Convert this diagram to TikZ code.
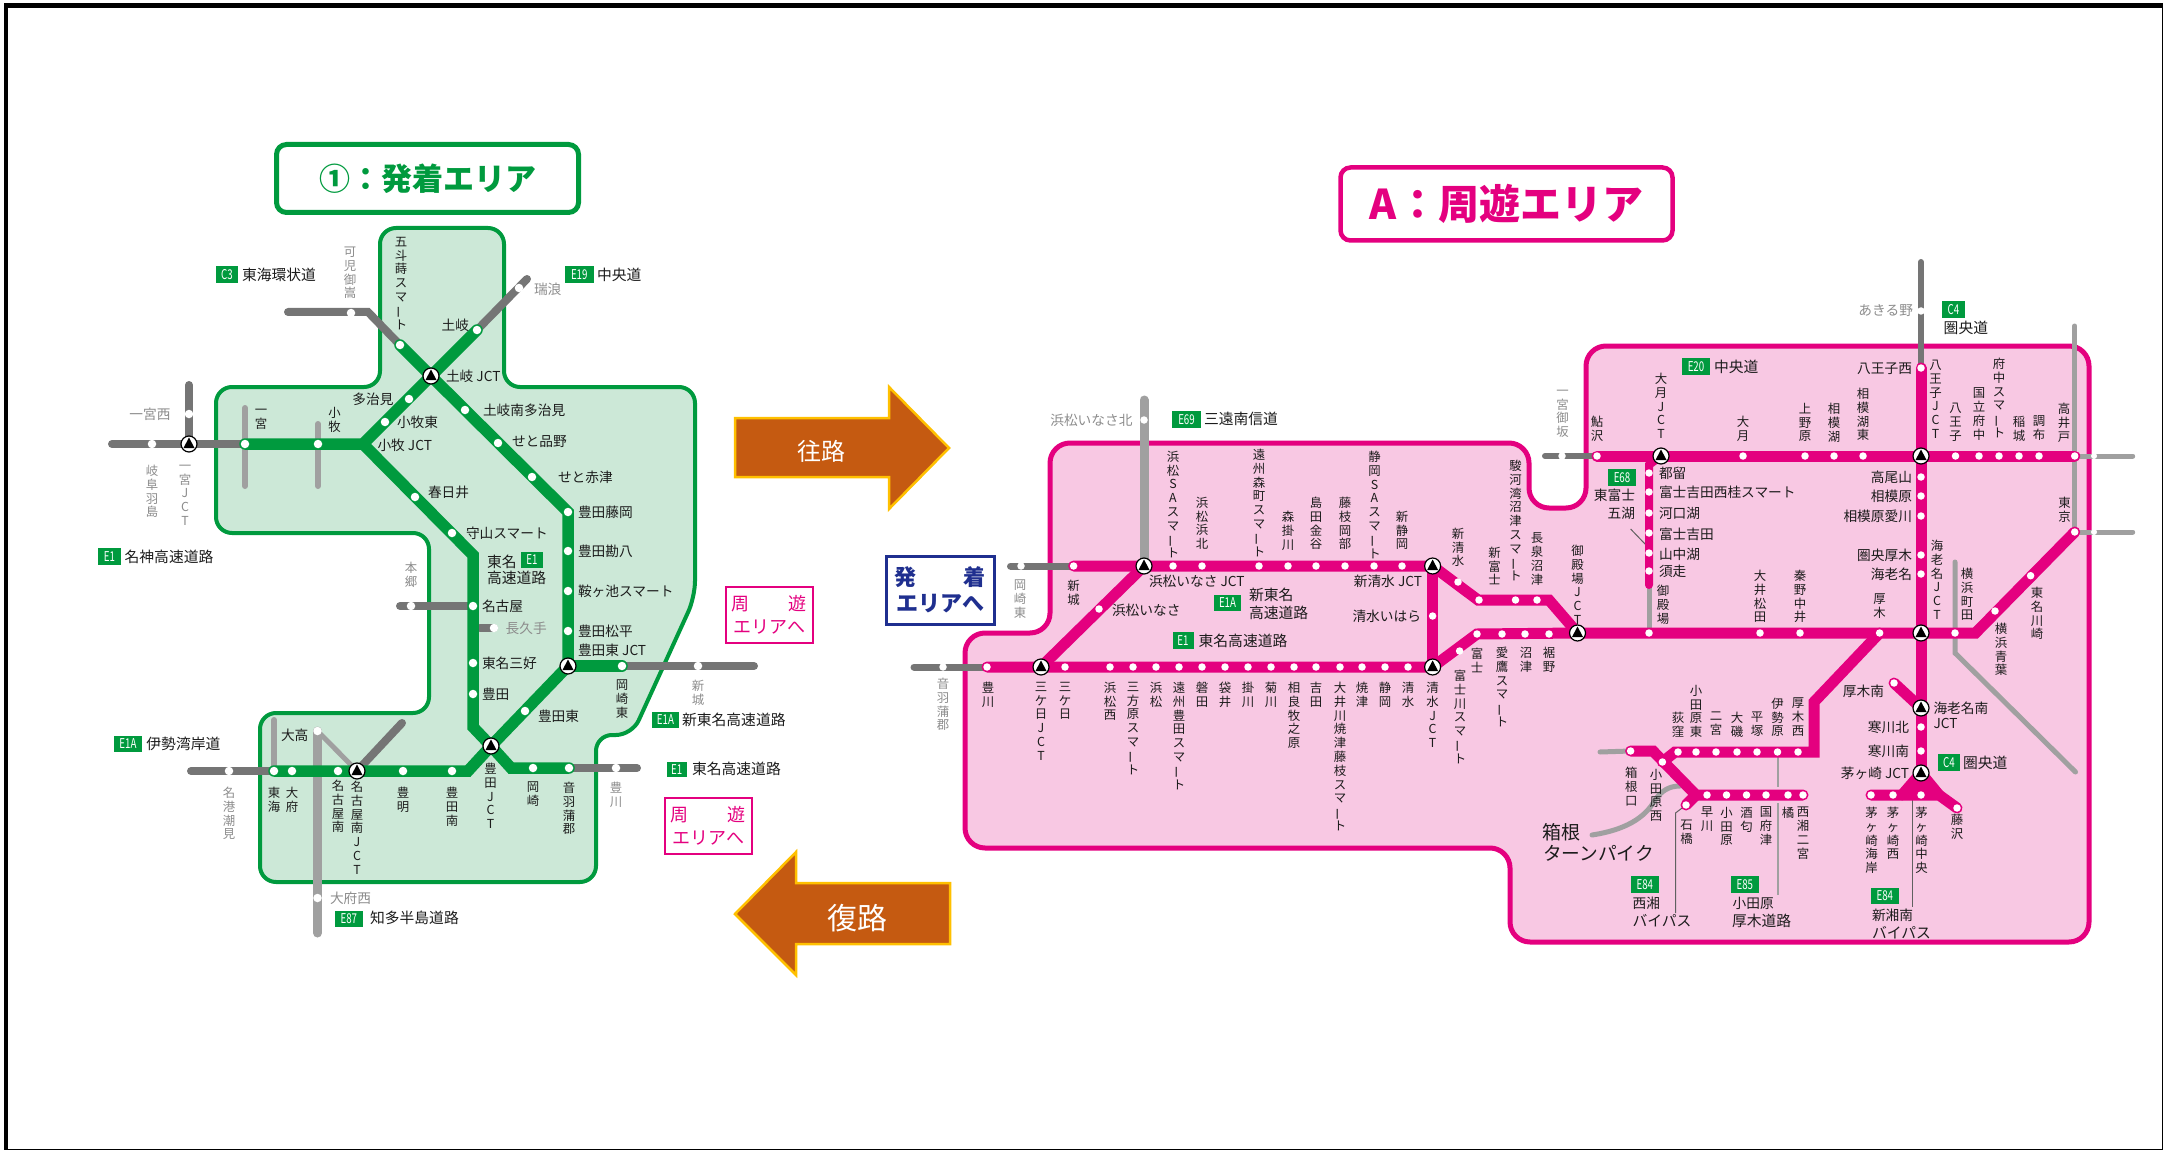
\documentclass[tikz,border=0pt]{standalone}
\usepackage{fontspec}
\setmainfont{Noto Sans CJK JP}
\usetikzlibrary{calc}
\definecolor{gline}{HTML}{009A3E}
\definecolor{gfill}{HTML}{CCE8D7}
\definecolor{pline}{HTML}{E4007F}
\definecolor{pfill}{HTML}{F8C8E3}
\definecolor{dgray}{HTML}{757575}
\definecolor{lgray}{HTML}{A0A0A0}
\definecolor{lbl}{HTML}{1C1C1C}
\definecolor{glbl}{HTML}{8C8C8C}
\definecolor{arrowfill}{HTML}{C55A11}
\definecolor{arrowedge}{HTML}{FFC000}
\definecolor{navy}{HTML}{1F2F8F}
\newcommand\cho{\rotatebox[origin=c]{90}{ー}}
\makeatletter
\newcommand\vstack[2]{\vbox{\baselineskip=#1pt\lineskiplimit=-100pt\@tfor\vc:=#2\do{\hbox to 1em{\hss\vc\hss}}}}
\makeatother
\newcounter{nn}
\tikzset{
  every node/.style={inner sep=0pt,outer sep=0pt},
  hlab/.style={text=lbl,font=\fontsize{13.7}{15}\selectfont},
  rlab/.style={text=lbl,font=\fontsize{14.8}{16}\selectfont},
  glab/.style={text=glbl,font=\fontsize{13.7}{15}\selectfont},
  vlab/.style={text=lbl,anchor=north,font=\fontsize{12.4}{14}\selectfont},
  vglab/.style={text=glbl,anchor=north,font=\fontsize{12.4}{14}\selectfont},
  badge/.style={fill=gline,text=white,font=\fontsize{13.5}{14}\selectfont,anchor=north west},
  stdot/.style={circle,fill=white,minimum size=8.5pt},
  groad/.style={draw=gline,line width=11.5pt,line cap=round,line join=miter},
  proad/.style={draw=pline,line width=11pt,line cap=round,line join=miter},
  dkroad/.style={draw=dgray,line width=8pt,line cap=round},
  ltroad/.style={draw=lgray,line width=6pt,line cap=round},
  thinln/.style={draw=lbl!70,line width=1pt},
  gridgreen/.style={draw=gline,fill=gfill,line width=4pt,rounded corners=16pt},
  gridpink/.style={draw=pline,fill=pfill,line width=5pt,rounded corners=20pt},
  navarrow/.style={draw=arrowedge,fill=arrowfill,line width=2.5pt,line join=miter},
  pinkbox/.style={draw=pline,fill=white,line width=2.5pt},
  jctdisc/.style={circle,draw=black,fill=white,line width=1.2pt,minimum size=16pt},
}
% label helpers: every node gets a unique name
\newcommand\hl[3]{\stepcounter{nn}\node[hlab,anchor=west] (t\thenn) at (#1,#2) {#3};}
\newcommand\hb[3]{\stepcounter{nn}\node[rlab,anchor=west] (t\thenn) at (#1,#2) {#3};}
\newcommand\hr[3]{\stepcounter{nn}\node[hlab,anchor=east] (t\thenn) at (#1,#2) {#3};}
\newcommand\hlg[3]{\stepcounter{nn}\node[glab,anchor=west] (t\thenn) at (#1,#2) {#3};}
\newcommand\hrg[3]{\stepcounter{nn}\node[glab,anchor=east] (t\thenn) at (#1,#2) {#3};}
\newcommand\vl[3]{\stepcounter{nn}\node[vlab] (t\thenn) at (#1,#2) {\vstack{13.8}{#3}};}
\newcommand\vg[3]{\stepcounter{nn}\node[vglab] (t\thenn) at (#1,#2) {\vstack{13.8}{#3}};}
% badge: x1 y1 x2 y2 text
\newcommand\bdg[5]{\stepcounter{nn}\path let \p1=(#1,#2), \p2=(#3,#4), \n1={\x2-\x1}, \n2={\y1-\y2} in
  node[badge,minimum width=\n1,minimum height=\n2] (t\thenn) at (#1,#2) {\scalebox{0.72}[1]{#5}};}
\newcommand\jct[1]{\node[jctdisc] (j#1) at (#1) {};
  \fill[black] ($(#1)+(0,6.5pt)$) -- ($(#1)+(-5.5pt,-4pt)$) -- ($(#1)+(5.5pt,-4pt)$) -- cycle;}
% station lists
\def\gst{mizu/519/288,toki/477/330,goto/400/345,kani/351/313,tjmn/465/410,seto/498/443,akaz/532/477,fuji/568/512,kanp/568/551,kura/568/591,matu/568/631,okeh/622/666,shin/698/666,taji/409/399,komh/385/422,kasu/415/497,mori/452/533,nago/473/606,naga/494/628,miyo/473/663,toyo/473/694,toyh/525/711,okaz/533/768,otow/569/768,toyk/616/768,toym/452/771,aake/403/771,nans/338/771,obus/292/771,tokh/274/771,meik/229/771,otak/317.5/731,obun/317.5/898,ichi/245/444,koma/318/444,gifu/152/444,ichn/189/414,hong/411/606}
\def\pst{inak/1144/420,shir/1073.6/566,okae/1021/566,hsa/1173/566,hhk/1202/566,enm/1259/566,mkk/1288/566,skn/1316/566,fok/1345/566,ssa/1374/566,nsz/1402/566,shis/1458/582,nfj/1479/600,sur/1515.5/600,ngi/1537/600,toyg/987/667,oto/943/667,mik/1065/667,hmn/1110/667,mkt/1133/667,hmm/1156/667,eto/1179/667,iwa/1202/667,fkr/1225/667,kkg/1248/667,kkw/1271/667,sgr/1294/667,ysd/1316/667,oig/1340/667,yzu/1362/667,szo/1385/667,smz/1408/667,ina/1099/609,ihr/1432.6/616,fjg/1459.6/651,fji/1477/634,ait/1502/634,nmz/1525/634,sso/1549/634,gtb/1649/633,omt/1760/633,hdn/1800/633,atsu/1879.6/633,yokm/1955/633,yoka/1995/611,kwsk/2030.6/575.7,toky/2074.7/532,ayu/1597/456,imi/1562/456,otki/1743/456,uen/1805/456,sag/1834/456,sgh/1863/456,hoj/1955.5/456,kfc/1979/456,fch/1999/456,ing/2019/456,cho/2039/456,taka/2074.7/456,aki/1921/311,hano/1921/368,tko/1921/477,smh/1921/496,sma/1921/516,kat/1921/555,ebn/1921/574,sam/1894/683,skk/1921/727,skm/1921/751,cco/1921/795,tsr/1649/473,fyn/1649/492,kwg/1649/513,fys/1649/533,ymn/1649/553,sbs/1649/571,atn/1798/752,ise/1777.5/752,hrt/1757/752,oso/1737/752,nnm/1716/752,odh/1696/752,ogi/1678/752,odn/1662.4/762,hak/1630.6/751,ish/1686/805,hyk/1707/795,odw/1726.5/795,skw/1746.5/795,kzu/1766/795,tch/1788/795,nsn/1803/795,cks/1871/795,ccn/1893/795,fjs/1957/808}
\begin{document}
\begin{tikzpicture}[x=1pt,y=-1pt]
\useasboundingbox (0,0) rectangle (2163,1150);
% outer frame
\fill[black] (4,3) rectangle (2163,8);
\fill[black] (4,3) rectangle (8,1150);
\fill[black] (4,1149) rectangle (2163,1150);
\fill[black] (2161.5,3) rectangle (2163,1150);
% coordinates
\foreach \n/\x/\y in \gst {\coordinate (\n) at (\x,\y);}
\foreach \n/\x/\y in \pst {\coordinate (\n) at (\x,\y);}
\foreach \n/\x/\y in {tokj/431/376,ichj/189/444,toye/568/666,toyj/491/746,nanj/357/771,komj/363/444,gA/368/312,gB/288/312,gC/527/279,gD/473/555,gE/473/727,gF/511/768,gG/468/771,gL/112/444,gT/189/385,gR/754/666,gS/637/768,gW/191/771,gH/400/606,gN/480/628,gX/402/723,gI1/245/408,gI2/245/486,gK1/318/424,gK2/318/486,gV/274/720,gO/317.5/933,
  inaj/1144/566,mikj/1041/667,sisj/1432.6/566,simj/1432.6/667,gotj/1577.5/633,otkj/1661/456,hacj/1921/456,ebij/1921/633,eboj/1921/708,chij/1921/773,
  b1/1478/600,b2/1549/600,b3/1477/634,b4/1975.5/633,b5/1649/465,b6/1649/585,b7/1814/702,b8/1814/752,b9/1675/752,b10/1653/751,b11/1696/795,b12/1902/795,b13/1939/795,
  k1/1144/400,k2/1010.5/566,k3/914/667,k4/2074.7/326,k5/2132.7/532,k6/2132.7/456,k7/1921/262,k8/1545/456,k9/1955/562,k10/1955/653,k11/2075.5/772,k12/1600/752,k13/1592/835,k14/1680/786,k15/1777.5/787,k16/1777.5/803,k17/1777.5/895,k18/1675.5/813,k19/1675.5/913,k20/1912/800,k21/1912/907,k22/1630.6/529,k23/1646/545}
  {\coordinate (\n) at (\x,\y);}
% ---------- titles
\node[draw=gline,line width=5pt,rounded corners=10pt,minimum width=302pt,minimum height=68pt,text=gline,font=\bfseries\fontsize{31}{34}\selectfont] (ttl1) at (427.5,178.5) {①：発着エリア};
\node[draw=pline,line width=4.5pt,rounded corners=10pt,minimum width=332pt,minimum height=73pt,text=pline,font=\bfseries\fontsize{41}{44}\selectfont] (ttl2) at (1506.5,204) {A：周遊エリア};
% ---------- regions
\draw[gridgreen] (380,228) -- (504,228) -- (504,387) -- (695,387) -- (695,597) -- (632,735) -- (596,735) -- (596,882) -- (260,882) -- (260,713) -- (429,713) -- (429,533) -- (216,533) -- (216,387) -- (380,387) -- cycle;
\draw[gridpink] (1050,443) -- (1529,443) -- (1529,508) -- (1586,508) -- (1586,346) -- (2089,346) -- (2089,942) -- (1510,942) -- (1510,848) -- (965,848) -- (965,633) -- (1050,633) -- cycle;
% ---------- arrows
\draw[navarrow] (735,418) -- (889,418) -- (889,387) -- (949,448) -- (889,509) -- (889,477) -- (735,477) -- cycle;
\node[text=white,font=\fontsize{24}{26}\selectfont] (arr1) at (821,451) {往路};
\draw[navarrow] (950,883) -- (796,883) -- (796,852) -- (735,914) -- (796,975) -- (796,944) -- (950,944) -- cycle;
\node[text=white,font=\fontsize{30}{32}\selectfont] (arr2) at (857,918) {復路};
% ---------- green side roads
\draw[dkroad] (gC) -- (toki);
\draw[dkroad] (goto) -- (gA) -- (gB);
\draw[dkroad] (gL) -- (ichi);
\draw[dkroad] (gT) -- (ichj);
\draw[dkroad] (okeh) -- (gR);
\draw[dkroad] (otow) -- (gS);
\draw[dkroad] (tokh) -- (gW);
\draw[dkroad] (gH) -- (nago);
\draw[dkroad] (gN) -- (naga);
\draw[dkroad] (nanj) -- (gX);
\draw[ltroad] (gI1) -- (gI2);
\draw[ltroad] (gK1) -- (gK2);
\draw[ltroad] (gV) -- (tokh);
\draw[ltroad,line width=9pt] (otak) -- (gO);
\draw[ltroad,line width=5pt] (otak) -- (nanj);
\draw[groad] (goto) -- (tokj) -- (fuji) -- (toye) -- (toyj) -- (gG) -- (nanj) -- (tokh);
\draw[groad] (toki) -- (tokj) -- (komj) -- (ichi);
\draw[groad] (komj) -- (gD) -- (gE) -- (toyj) -- (gF) -- (otow);
\draw[groad] (toye) -- (okeh);
% ---------- pink side roads
\draw[ltroad,line width=9pt] (k1) -- (inaj);
\draw[ltroad,line width=5pt] (toky) -- (k4);
\draw[ltroad,line width=5pt] (toky) -- (k5);
\draw[ltroad,line width=5pt] (taka) -- (k6);
\draw[ltroad,line width=5pt] (b6) -- (gtb);
\draw[ltroad,line width=5pt] (k9) -- (k10) -- (k11);
\draw[ltroad,line width=5pt] (k12) -- (hak);
\draw[ltroad,line width=5pt] (k13) .. controls (1625,830) and (1645,818) .. (1655,800) .. controls (1662,790) and (1670,786) .. (k14);
\draw[lgray,line width=2pt] (ise) -- (k15);
\draw[lgray,line width=2pt] (k16) -- (k17);
\draw[dkroad,line width=6pt] (k7) -- (hano);
\draw[dkroad,line width=7pt] (k2) -- (shir);
\draw[dkroad,line width=7pt] (k3) -- (toyg);
\draw[dkroad,line width=6pt] (k8) -- (ayu);
\draw[thinln] (ish) -- (k18) -- (k19);
\draw[thinln] (k20) -- (k21);
\draw[thinln] (k22) -- (k23);
\fill[pline] (chij) -- (b12) -- (b13) -- cycle;
\draw[proad] (shir) -- (inaj) -- (sisj) -- (b1) -- (b2) -- (gotj);
\draw[proad] (toyg) -- (mikj) -- (simj) -- (b3) -- (gotj) -- (b4) -- (toky);
\draw[proad] (mikj) -- (inaj);
\draw[proad] (sisj) -- (simj);
\draw[proad] (ayu) -- (taka);
\draw[proad] (hano) -- (chij);
\draw[proad,line width=8pt] (otkj) -- (b5) -- (b6);
\draw[proad] (atsu) -- (b7) -- (b8) -- (b9) -- (odn);
\draw[proad] (sam) -- (eboj);
\draw[proad] (hak) -- (b10) -- (b11) -- (nsn);
\draw[proad] (b11) -- (ish);
\draw[proad] (cks) -- (b13) -- (fjs);
\draw[proad] (chij) -- (b13);
\draw[proad] (chij) -- (b12);
% ---------- station dots
\foreach \n/\x/\y in \gst {\node[stdot] (d\n) at (\n) {};}
\foreach \n/\x/\y in \pst {\node[stdot,minimum size=7.5pt] (d\n) at (\n) {};}
\node[stdot,minimum size=6pt] (dq2) at (2094,532) {};
\node[stdot,minimum size=6pt] (dq3) at (2094,456) {};
% ---------- junctions
\foreach \n in {tokj,ichj,toye,toyj,nanj,inaj,mikj,sisj,simj,gotj,otkj,hacj,ebij,eboj,chij} {\jct{\n}}
% ---------- badges
\bdg{216}{266}{238}{283}{C3}
\bdg{565}{266}{593.5}{283}{E19}
\bdg{98}{548}{121}{565}{E1}
\bdg{521}{552}{543}{568}{E1}
\bdg{652}{712}{679}{728}{E1A}
\bdg{666.5}{762}{687}{777}{E1}
\bdg{114}{736}{142}{752}{E1A}
\bdg{335}{911}{362.6}{927}{E87}
\bdg{1172}{411}{1201}{428}{E69}
\bdg{1214}{595}{1241}{611}{E1A}
\bdg{1172.5}{632}{1193.5}{649}{E1}
\bdg{1682}{358}{1710}{375}{E20}
\bdg{1942}{301}{1965}{318}{C4}
\bdg{1608}{469}{1636}{486}{E68}
\bdg{1938}{754}{1960}{771}{C4}
\bdg{1630.6}{876}{1659}{893}{E84}
\bdg{1730.6}{876}{1759}{893}{E85}
\bdg{1870.6}{888}{1899}{904}{E84}
% ---------- green labels
\hb{242}{275}{東海環状道}
\hb{597}{275}{中央道}
\vg{350}{247}{可児御嵩}
\vl{401}{237}{五斗蒔スマ{\cho}ト}
\hr{469}{325}{土岐}
\hlg{534}{289}{瑞浪}
\hl{446}{376}{土岐 JCT}
\hr{393.5}{399}{多治見}
\hl{483}{410}{土岐南多治見}
\hl{512}{442}{せと品野}
\hl{558}{477}{せと赤津}
\hl{578}{512}{豊田藤岡}
\hl{397}{422}{小牧東}
\hl{377.5}{445}{小牧 JCT}
\hl{428}{492}{春日井}
\vl{334.6}{407}{小牧}
\vl{261}{409}{一宮}
\hrg{170.5}{414}{一宮西}
\vg{152}{465}{岐阜羽島}
\vg{185}{465}{一宮JCT}
\hb{124.6}{557}{名神高速道路}
\hl{466}{533}{守山スマート}
\hb{487}{562}{東名}
\hb{487}{578}{高速道路}
\hl{578}{551}{豊田勘八}
\hl{578}{591}{鞍ヶ池スマート}
\hl{578}{631}{豊田松平}
\hl{578}{650}{豊田東 JCT}
\vg{411}{562}{本郷}
\hl{482}{606}{名古屋}
\hlg{505.6}{628}{長久手}
\hl{482}{663}{東名三好}
\hl{482}{694}{豊田}
\hl{538}{716}{豊田東}
\vl{622}{680}{岡崎東}
\vg{698}{680}{新城}
\hb{682}{720}{新東名高速道路}
\hb{692}{769}{東名高速道路}
\vg{616}{782}{豊川}
\vl{569}{782}{音羽蒲郡}
\vl{533}{782}{岡崎}
\vl{490.5}{763}{豊田JCT}
\vl{452}{787}{豊田南}
\vl{403}{787}{豊明}
\vl{357}{781}{名古屋南JCT}
\vl{338}{780}{名古屋南}
\vl{292}{787}{大府}
\vl{274}{787}{東海}
\vg{229}{787}{名港潮見}
\hl{281}{735}{大高}
\hb{146.4}{744}{伊勢湾岸道}
\hlg{330}{898}{大府西}
\hb{370}{918}{知多半島道路}
% pink "to touring area" boxes
\node[pinkbox,minimum width=87pt,minimum height=56pt] (pb1) at (769.5,615) {};
\node[text=pline,font=\fontsize{18}{20}\selectfont] (pb1a) at (769,604) {周\hspace{2.2em}遊};
\node[text=pline,font=\fontsize{18}{20}\selectfont] (pb1b) at (769,627) {エリアへ};
\node[pinkbox,minimum width=87pt,minimum height=56pt] (pb2) at (708.5,826) {};
\node[text=pline,font=\fontsize{18}{20}\selectfont] (pb2a) at (708,815) {周\hspace{2.2em}遊};
\node[text=pline,font=\fontsize{18}{20}\selectfont] (pb2b) at (708,838) {エリアへ};
% ---------- pink labels
\node[draw=navy,fill=white,line width=3pt,minimum width=108pt,minimum height=68pt] (blu) at (940,590) {};
\node[text=navy,font=\bfseries\fontsize{22}{24}\selectfont] (blua) at (940,577) {発\hspace{2.1em}着};
\node[text=navy,font=\bfseries\fontsize{22}{24}\selectfont] (blub) at (940,604) {エリアへ};
\hb{1204}{419}{三遠南信道}
\hrg{1132.5}{420}{浜松いなさ北}
\vg{1020}{580}{岡崎東}
\vl{1073.6}{580}{新城}
\vl{1173}{451}{浜松SAスマ{\cho}ト}
\vl{1202}{497}{浜松浜北}
\vl{1259}{449}{遠州森町スマ{\cho}ト}
\vl{1288}{511}{森掛川}
\vl{1316}{497}{島田金谷}
\vl{1345}{497}{藤枝岡部}
\vl{1374.5}{451}{静岡SAスマ{\cho}ト}
\vl{1402}{511}{新静岡}
\vl{1458}{528}{新清水}
\vl{1494.5}{547}{新富士}
\vl{1515.5}{460}{駿河湾沼津スマ{\cho}ト}
\vl{1537}{533}{長泉沼津}
\vl{1577.5}{545}{御殿場JCT}
\hl{1149}{581}{浜松いなさ JCT}
\hr{1422}{581}{新清水 JCT}
\hb{1249}{595}{新東名}
\hb{1249}{613}{高速道路}
\hl{1112}{610}{浜松いなさ}
\hr{1421}{616}{清水いはら}
\hb{1198.6}{641}{東名高速道路}
\vg{943}{678}{音羽蒲郡}
\vl{988}{682}{豊川}
\vl{1041}{682}{三ケ日JCT}
\vl{1065}{682}{三ケ日}
\vl{1110}{682}{浜松西}
\vl{1133}{682}{三方原スマ{\cho}ト}
\vl{1156}{682}{浜松}
\vl{1179}{682}{遠州豊田スマ{\cho}ト}
\vl{1202}{682}{磐田}
\vl{1225}{682}{袋井}
\vl{1248}{682}{掛川}
\vl{1271}{682}{菊川}
\vl{1294}{682}{相良牧之原}
\vl{1316}{682}{吉田}
\vl{1340}{682}{大井川焼津藤枝スマ{\cho}ト}
\vl{1362}{682}{焼津}
\vl{1385}{682}{静岡}
\vl{1408}{682}{清水}
\vl{1432.6}{682}{清水JCT}
\vl{1460}{670}{富士川スマ{\cho}ト}
\vl{1477}{648}{富士}
\vl{1502}{647}{愛鷹スマ{\cho}ト}
\vl{1526}{647}{沼津}
\vl{1549}{647}{裾野}
\vg{1562.5}{390}{一宮御坂}
\vl{1597}{416}{鮎沢}
\vl{1661}{373}{大月JCT}
\vl{1743}{416}{大月}
\vl{1805}{403}{上野原}
\vl{1834}{403}{相模湖}
\vl{1863}{388}{相模湖東}
\hb{1714}{367}{中央道}
\hrg{1913}{311}{あきる野}
\hb{1943.7}{328}{圏央道}
\hr{1912}{369}{八王子西}
\vl{1935.5}{360}{八王子JCT}
\vl{1955.5}{403}{八王子}
\vl{1979}{388}{国立府中}
\vl{1999}{358}{府中スマ{\cho}ト}
\vl{2019}{416}{稲城}
\vl{2039}{416}{調布}
\vl{2064}{403}{高井戸}
\vl{2064.5}{497}{東京}
\hr{1635}{495}{東富士}
\hr{1635}{513}{五湖}
\hl{1659}{473}{都留}
\hl{1659}{492}{富士吉田西桂スマート}
\hl{1659}{513}{河口湖}
\hl{1659}{534}{富士吉田}
\hl{1659}{554}{山中湖}
\hl{1659}{571}{須走}
\vl{1663}{585}{御殿場}
\hr{1912}{477}{高尾山}
\hr{1912}{496}{相模原}
\hr{1912}{516}{相模原愛川}
\hr{1912}{555}{圏央厚木}
\hr{1912}{574}{海老名}
\vl{1937}{540}{海老名JCT}
\vl{1760}{570}{大井松田}
\vl{1800}{570}{秦野中井}
\vl{1879.6}{594}{厚木}
\vl{1967}{568}{横浜町田}
\vl{2001}{623}{横浜青葉}
\vl{2037}{587}{東名川崎}
\hr{1884}{691}{厚木南}
\hl{1933.5}{708}{海老名南}
\hl{1933.5}{723}{JCT}
\hr{1909}{727}{寒川北}
\hr{1909}{751}{寒川南}
\hr{1909}{773}{茅ヶ崎 JCT}
\hb{1963}{763}{圏央道}
\vl{1696}{685}{小田原東}
\vl{1678}{712}{荻窪}
\vl{1716}{712}{二宮}
\vl{1737}{712}{大磯}
\vl{1757}{712}{平塚}
\vl{1777.5}{698}{伊勢原}
\vl{1798}{698}{厚木西}
\vl{1631.4}{767}{箱根口}
\vl{1656}{769}{小田原西}
\vl{1686.5}{820}{石橋}
\vl{1707}{807}{早川}
\vl{1726.5}{807}{小田原}
\vl{1746.5}{807}{酒匂}
\vl{1766}{807}{国府津}
\vl{1788}{807}{橘}
\vl{1803}{807}{西湘二宮}
\vl{1957}{814}{藤沢}
\vl{1871.5}{807}{茅ヶ崎海岸}
\vl{1893}{807}{茅ヶ崎西}
\vl{1921.6}{807}{茅ヶ崎中央}
\node[anchor=west,text=lbl,font=\fontsize{19}{21}\selectfont] (hk1) at (1542,832) {箱根};
\node[anchor=west,text=lbl,font=\fontsize{18.7}{21}\selectfont] (hk2) at (1543,853) {ターンパイク};
\hl{1632.6}{903}{西湘}
\hb{1632.6}{921}{バイパス}
\hl{1732.6}{903}{小田原}
\hb{1732}{921}{厚木道路}
\hl{1872}{915}{新湘南}
\hb{1872}{933}{バイパス}
\end{tikzpicture}
\end{document}
